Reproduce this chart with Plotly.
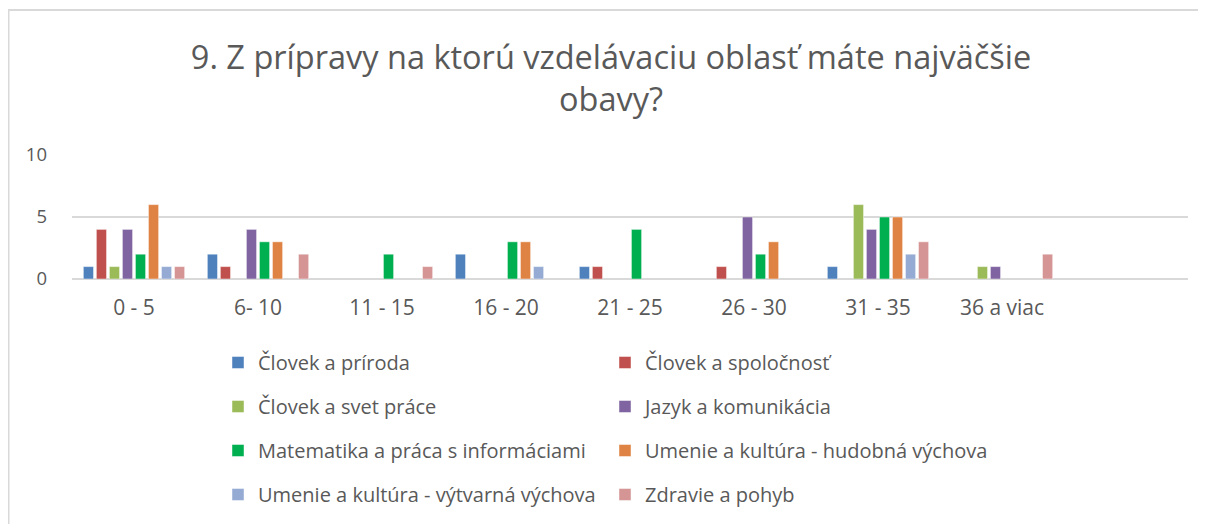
import plotly.graph_objects as go

categories = ["0 - 5", "6- 10", "11 - 15", "16 - 20", "21 - 25", "26 - 30", "31 - 35", "36 a viac", " "]

series_names = [
    "Človek a príroda",
    "Človek a spoločnosť",
    "Človek a svet práce",
    "Jazyk a komunikácia",
    "Matematika a práca s informáciami",
    "Umenie a kultúra - hudobná výchova",
    "Umenie a kultúra - výtvarná výchova",
    "Zdravie a pohyb",
]

clovek_priroda    = [1, 2, 0, 2, 1, 0, 1, 0, 0]
clovek_spolocnost = [4, 1, 0, 0, 1, 1, 0, 0, 0]
clovek_svet_prace = [1, 0, 0, 0, 0, 0, 6, 1, 0]
jazyk_komunikacia = [4, 4, 0, 0, 0, 5, 4, 1, 0]
matematika        = [2, 3, 2, 3, 4, 2, 5, 0, 0]
hudobna_vychova   = [6, 3, 0, 3, 0, 3, 5, 0, 0]
vytvarna_vychova  = [1, 0, 0, 1, 0, 0, 2, 0, 0]
zdravie_pohyb     = [1, 2, 1, 0, 0, 0, 3, 2, 0]

series_values = [clovek_priroda, clovek_spolocnost, clovek_svet_prace, jazyk_komunikacia,
                 matematika, hudobna_vychova, vytvarna_vychova, zdravie_pohyb]

colors = ["#4F81BD", "#C0504D", "#9BBB59", "#8064A2", "#00B050", "#DF8344", "#95ABD3", "#D59594"]

W, H = 1206, 524
# page body has an 8px offset, so figure coordinates are screen coordinates minus 8
OFF = 8
PLOT_L, PLOT_R, PLOT_T, PLOT_B = 72 - OFF, 1188 - OFF, 155 - OFF, 279 - OFF

fig = go.Figure()
for i, (name, vals, col) in enumerate(zip(series_names, series_values, colors)):
    fig.add_trace(go.Bar(
        x=categories, y=[v if v else None for v in vals], name=name,
        marker=dict(color=col, line=dict(color="rgba(255,255,255,0.45)", width=1)),
        legend="legend" if i % 2 == 0 else "legend2",
        legendgroup=name,
    ))

font_col = "#595959"
legend_common = dict(
    orientation="v", font=dict(family="Open Sans", size=20, color=font_col),
    bgcolor="rgba(0,0,0,0)", tracegroupgap=15, itemwidth=30,
    xanchor="left", yanchor="top",
)

fig.update_layout(
    width=W, height=H,
    margin=dict(l=0, r=0, t=0, b=0, autoexpand=False),
    paper_bgcolor="white", plot_bgcolor="white",
    title=dict(
        text="9. Z prípravy na ktorú vzdelávaciu oblasť máte najväčšie<br>obavy?",
        x=0.5, xanchor="center", y=1 - 61 / H, yanchor="middle",
        font=dict(family="Open Sans", size=32.5, color=font_col),
    ),
    barmode="group", bargap=0.16, bargroupgap=0.22,
    xaxis=dict(
        type="category", showgrid=False, showline=False, ticks="",
        domain=[PLOT_L / W, PLOT_R / W],
        tickfont=dict(family="Open Sans", size=21, color=font_col),
        ticklabelstandoff=14, automargin=False,
    ),
    yaxis=dict(
        range=[0, 10], tickvals=[0, 5, 10], showgrid=True, gridcolor="#D9D9D9", gridwidth=1.5,
        domain=[1 - PLOT_B / H, 1 - PLOT_T / H],
        zeroline=True, zerolinecolor="#D9D9D9", zerolinewidth=1.5, showline=False, ticks="",
        tickfont=dict(family="Open Sans", size=18.5, color=font_col),
        ticklabelstandoff=24, automargin=False,
    ),
    legend=dict(x=210 / W, y=1 - 335 / H, **legend_common),
    legend2=dict(x=597 / W, y=1 - 335 / H, **legend_common),
    showlegend=True,
    shapes=[dict(
        type="rect", xref="paper", yref="paper",
        x0=0.5 / W, x1=1.0, y0=-0.05, y1=1 - 2 / H,
        line=dict(color="#D9D9D9", width=2), fillcolor="rgba(0,0,0,0)",
    )],
)

fig.write_html("out.html")
